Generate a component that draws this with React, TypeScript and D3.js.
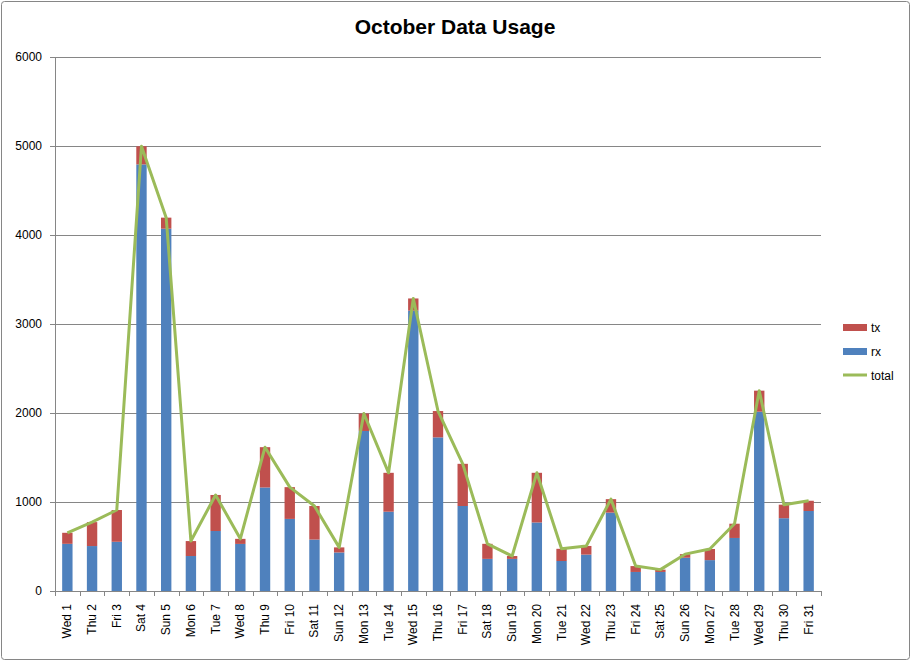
import React from 'react';
import * as d3 from 'd3';

// October daily usage
const days = [
  'Wed 1', 'Thu 2', 'Fri 3', 'Sat 4', 'Sun 5', 'Mon 6', 'Tue 7', 'Wed 8', 'Thu 9', 'Fri 10',
  'Sat 11', 'Sun 12', 'Mon 13', 'Tue 14', 'Wed 15', 'Thu 16', 'Fri 17', 'Sat 18', 'Sun 19', 'Mon 20',
  'Tue 21', 'Wed 22', 'Thu 23', 'Fri 24', 'Sat 25', 'Sun 26', 'Mon 27', 'Tue 28', 'Wed 29', 'Thu 30', 'Fri 31',
];
const rx = [
  530, 505, 553, 4793, 4071, 393, 674, 529, 1163, 810,
  578, 433, 1798, 891, 3150, 1726, 955, 361, 361, 770,
  337, 409, 881, 214, 214, 374, 347, 596, 2015, 818, 899,
];
const tx = [
  124, 269, 357, 204, 124, 168, 405, 57, 453, 357,
  377, 57, 196, 437, 137, 296, 474, 169, 32, 558,
  137, 97, 151, 66, 26, 40, 125, 160, 236, 152, 115,
];
const yTicks = [0, 1000, 2000, 3000, 4000, 5000, 6000];

const W = 912;
const H = 662;
const left = 55;
const right = 821;
const top = 57;
const bottom = 591;

const BLUE = '#4F81BD';
const RED = '#C0504D';
const GREEN = '#9BBB59';
const GRID = '#868686';
const FONT = '"Liberation Sans", Arial, sans-serif';

const App = () => {
  const x = d3.scaleBand<string>().domain(days).range([left, right]).paddingInner(0.58).paddingOuter(0.29);
  const step = (right - left) / days.length;
  const y = d3.scaleLinear().domain([0, 6000]).range([bottom, top]);
  const total = days.map((_, i) => rx[i] + tx[i]);

  const line = d3.line<number>()
    .x((_, i) => (x(days[i]) as number) + x.bandwidth() / 2)
    .y(d => y(d));

  return (
    <svg width={W} height={H} style={{ position: 'absolute', left: 0, top: 0, background: '#fff' }}>
      <rect x={1.5} y={1.5} width={W - 4} height={H - 4} rx={3} fill="#fff" stroke={GRID} strokeWidth={1} />
      <text x={455} y={34} textAnchor="middle" fontFamily={FONT} fontWeight="bold" fontSize={21} fill="#000">
        October Data Usage
      </text>

      {/* gridlines and y axis */}
      {yTicks.map(t => (
        <g key={t}>
          {t > 0 && <line x1={left} x2={right} y1={Math.round(y(t)) + 0.5} y2={Math.round(y(t)) + 0.5} stroke={GRID} />}
          <line x1={left - 5} x2={left} y1={Math.round(y(t)) + 0.5} y2={Math.round(y(t)) + 0.5} stroke={GRID} />
          <text x={42} y={y(t)} dy="0.35em" textAnchor="end" fontFamily={FONT} fontSize={12} fill="#000">{t}</text>
        </g>
      ))}
      <line x1={left + 0.5} x2={left + 0.5} y1={top} y2={bottom} stroke={GRID} />

      {/* stacked bars */}
      {days.map((d, i) => (
        <g key={d}>
          <rect x={x(d)} width={x.bandwidth()} y={y(rx[i])} height={y(0) - y(rx[i])} fill={BLUE} />
          <rect x={x(d)} width={x.bandwidth()} y={y(rx[i] + tx[i])} height={y(rx[i]) - y(rx[i] + tx[i])} fill={RED} />
        </g>
      ))}

      <path d={line(total) || ''} fill="none" stroke={GREEN} strokeWidth={3} strokeLinejoin="round" />

      {/* x axis */}
      <line x1={left} x2={right} y1={bottom + 0.5} y2={bottom + 0.5} stroke={GRID} />
      {d3.range(days.length + 1).map(i => (
        <line key={i} x1={Math.round(left + i * step) + 0.5} x2={Math.round(left + i * step) + 0.5} y1={bottom} y2={bottom + 5} stroke={GRID} />
      ))}
      {days.map(d => {
        const cx = (x(d) as number) + x.bandwidth() / 2;
        return (
          <text key={d} transform={`translate(${cx + 4},604) rotate(-90)`} textAnchor="end" fontFamily={FONT} fontSize={12} fill="#000">
            {d}
          </text>
        );
      })}

      {/* legend */}
      <rect x={843} y={324} width={24} height={7} fill={RED} />
      <text x={871} y={327.5} dy="0.35em" fontFamily={FONT} fontSize={12} fill="#000">tx</text>
      <rect x={843} y={348} width={24} height={7} fill={BLUE} />
      <text x={871} y={351.5} dy="0.35em" fontFamily={FONT} fontSize={12} fill="#000">rx</text>
      <line x1={843} x2={867} y1={375} y2={375} stroke={GREEN} strokeWidth={3} />
      <text x={871} y={375.5} dy="0.35em" fontFamily={FONT} fontSize={12} fill="#000">total</text>
    </svg>
  );
};

export default App;
